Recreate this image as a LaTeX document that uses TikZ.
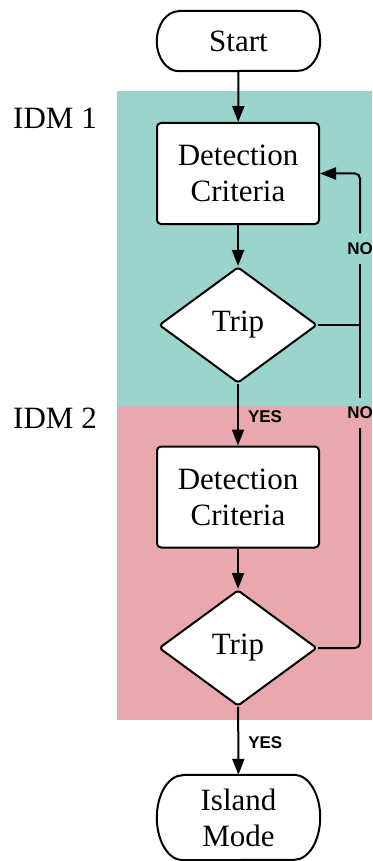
\documentclass[tikz,border=0pt]{standalone}
\usepackage{fontspec}
\setmainfont{Liberation Serif}
\newfontfamily\tagfont{Liberation Sans}
\usetikzlibrary{shapes.geometric,arrows.meta}

\definecolor{zoneteal}{RGB}{154,212,204}
\definecolor{zonepink}{RGB}{233,168,173}

\begin{document}
\begin{tikzpicture}[x=1pt,y=-1pt,
  txt/.style={font=\fontsize{31}{36}\selectfont, align=center, inner sep=0pt},
  procbox/.style={txt, draw, line width=2pt, fill=white, rounded corners=4pt,
                  minimum width=162pt, minimum height=101pt},
  decision/.style={txt, diamond, draw, line width=2pt, fill=white, rounded corners=3pt,
                   minimum width=158pt, minimum height=116pt},
  termtext/.style={txt, minimum width=163pt},
  outline/.style={draw, line width=2pt, fill=white},
  flow/.style={line width=2pt, -{Triangle[length=16pt,width=12pt]}},
  plain/.style={line width=2pt},
  answer/.style={font=\tagfont\bfseries\fontsize{17}{17}\selectfont, inner sep=0pt},
  gap/.style={answer, inner xsep=2pt, inner ysep=9pt},
  zonetag/.style={font=\fontsize{31}{36}\selectfont, inner sep=0pt}]

\useasboundingbox (0,0) rectangle (372,861);

% coloured zones of the two detection methods
\fill[zoneteal] (117,91) rectangle (372,406);
\fill[zonepink] (117,406) rectangle (372,720);
\node[zonetag] (tag1) at (55,118) {IDM 1};
\node[zonetag] (tag2) at (55,418) {IDM 2};

% terminals with elliptical ends
\node[termtext, minimum height=60pt] (start) at (238.5,41) {};
\draw[outline] ([xshift=22pt]start.north west) -- ([xshift=-22pt]start.north east)
  arc[start angle=90, end angle=-90, x radius=22pt, y radius=30pt]
  -- ([xshift=22pt]start.south west)
  arc[start angle=270, end angle=90, x radius=22pt, y radius=30pt] -- cycle;
\node[termtext, minimum height=85pt] (island) at (238.5,817.5) {};
\draw[outline] ([xshift=26pt]island.north west) -- ([xshift=-26pt]island.north east)
  arc[start angle=90, end angle=-90, x radius=26pt, y radius=42.5pt]
  -- ([xshift=26pt]island.south west)
  arc[start angle=270, end angle=90, x radius=26pt, y radius=42.5pt] -- cycle;
\node[txt] (islandtext) at (island) {Island\\Mode};
\node[txt] (starttext) at (start) {Start};

% process steps and decisions
\node[procbox] (crit1) at (238,173.5) {Detection\\Criteria};
\node[decision] (trip1) at (238,325) {Trip};
\node[procbox] (crit2) at (238,497) {Detection\\Criteria};
\node[decision] (trip2) at (238,648) {Trip};

% main flow
\draw[flow] (start) -- (crit1);
\draw[flow] (crit1) -- (trip1);
\draw[flow] (trip1) -- node[answer, anchor=west, xshift=9pt, yshift=-2pt] {YES} (crit2);
\draw[flow] (crit2) -- (trip2);
\draw[flow] (trip2) -- node[answer, anchor=west, xshift=9pt, yshift=-2pt] {YES} (island);

% NO return rail
\node[gap] (no1) at (360,248.5) {NO};
\node[gap] (no2) at (360,413) {NO};
\draw[plain, rounded corners=5pt] (trip2.east) -| (no2.south);
\draw[plain] (no2.north) -- (no1.south);
\draw[plain] (trip1.east) -- (trip1.east -| no1);
\draw[flow, rounded corners=5pt] (no1.north) |- (crit1.east);
\end{tikzpicture}
\end{document}
